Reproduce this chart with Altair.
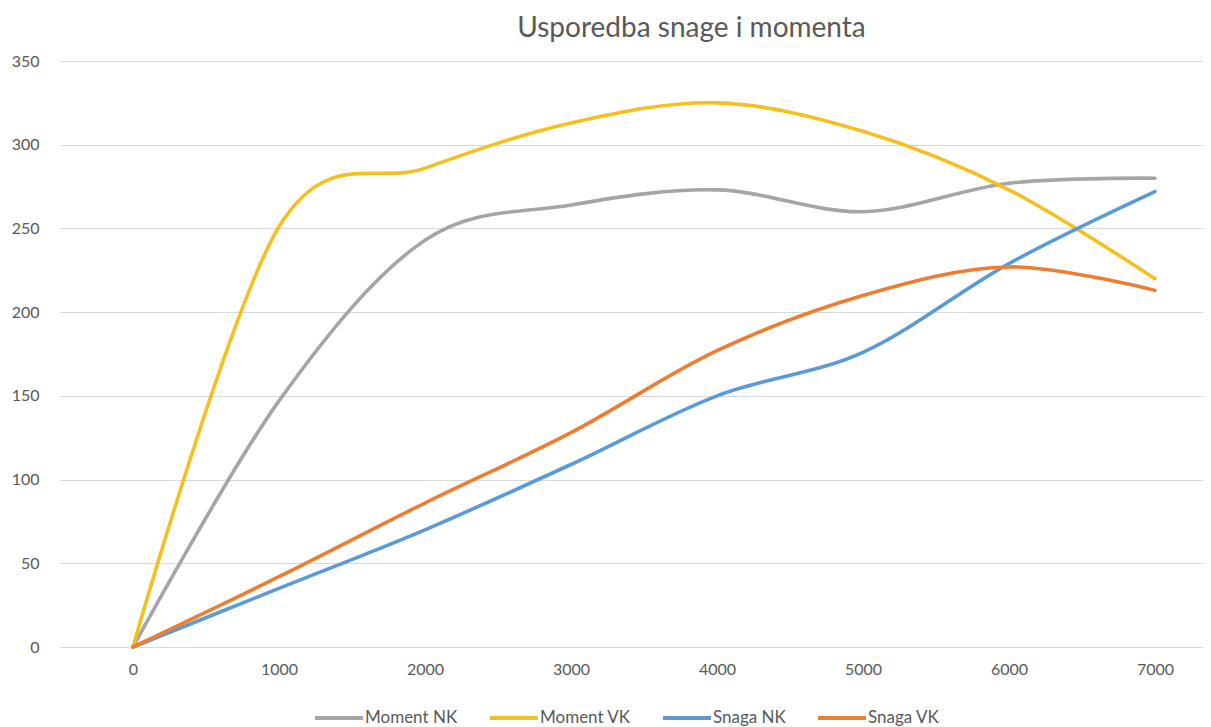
import altair as alt
import pandas as pd

rpm = [0, 1000, 2000, 3000, 4000, 5000, 6000, 7000]
moment_nk = [0, 147, 243, 264, 273, 260, 277, 280]
moment_vk = [0, 251, 286, 313, 325, 308, 273, 220]
snaga_nk = [0, 35, 70, 109, 150, 176, 229, 272]
snaga_vk = [0, 42, 86, 128, 177, 210, 227, 213]

series_names = ["Moment NK", "Moment VK", "Snaga NK", "Snaga VK"]
series_values = [moment_nk, moment_vk, snaga_nk, snaga_vk]
series_colors = ["#A5A5A5", "#F4C01E", "#5B9BD5", "#ED7D31"]
y_ticks = [0, 50, 100, 150, 200, 250, 300, 350]

rows = []
for name, vals in zip(series_names, series_values):
    for r, v in zip(rpm, vals):
        rows.append({"rpm": r, "value": v, "series": name})
df = pd.DataFrame(rows)

FONT = "Lato"
TXT = "#595959"

chart = (
    alt.Chart(df)
    .mark_line(interpolate="cardinal", strokeWidth=3.6, strokeCap="round")
    .encode(
        x=alt.X(
            "rpm:Q",
            scale=alt.Scale(domain=[-500, 7329], nice=False, zero=False),
            axis=alt.Axis(
                values=rpm, title=None, grid=False, ticks=False, domain=False,
                labelFont=FONT, labelFontSize=16, labelColor=TXT, labelPadding=14,
                format="d",
            ),
        ),
        y=alt.Y(
            "value:Q",
            scale=alt.Scale(domain=[0, 350], nice=False),
            axis=alt.Axis(
                values=y_ticks, title=None, ticks=False, domain=False,
                gridColor="#D9D9D9", gridWidth=1.2,
                labelFont=FONT, labelFontSize=16, labelColor=TXT, labelPadding=21,
            ),
        ),
        color=alt.Color(
            "series:N",
            scale=alt.Scale(domain=series_names, range=series_colors),
            legend=alt.Legend(
                title=None, orient="none", direction="horizontal",
                legendX=253, legendY=631, padding=0,
                symbolType="stroke", symbolSize=2304, symbolStrokeWidth=4,
                labelFont=FONT, labelFontSize=17, labelColor=TXT,
                labelOffset=0, columnPadding=24,
            ),
        ),
        order=alt.Order("rpm:Q"),
    )
    .properties(
        width=1143,
        height=586,
        padding={"left": 52, "top": 53, "right": 0, "bottom": 80},
        autosize=alt.AutoSizeParams(type="none"),
        title=alt.TitleParams(
            text="Usporedba snage i momenta", font=FONT, fontSize=28,
            fontWeight="normal", color=TXT, anchor="middle", dx=60, offset=10,
        ),
    )
    .configure_view(stroke=None)
)

chart.save("out.html", embed_options={"renderer": "svg", "actions": False})
